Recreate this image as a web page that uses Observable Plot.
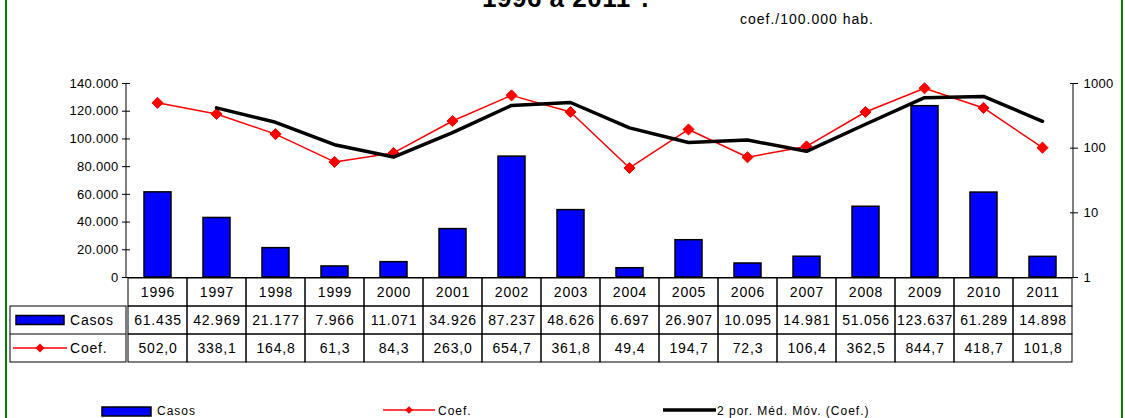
<!DOCTYPE html>
<html>
<head>
<meta charset="utf-8">
<script src="https://cdn.jsdelivr.net/npm/d3@7"></script>
<script src="https://cdn.jsdelivr.net/npm/@observablehq/plot@0.6"></script>
<style>
  body { margin: 0; background: #fff; }
  #chart { position: relative; width: 1125px; height: 418px; overflow: hidden; background: #fff;
           font-family: "Liberation Sans", Arial, sans-serif; color: #000; }
  #chart svg { position: absolute; left: 0; }
  .border { position: absolute; left: 5px; top: -10px; width: 1114px; height: 440px; border: 2px solid #008000; }
  .title { position: absolute; left: 482px; top: -15px; font-size: 26px; font-weight: bold; line-height: 26px;
           letter-spacing: 0.5px; white-space: nowrap; }
  .unit { position: absolute; left: 740px; top: 12px; font-size: 14px; line-height: 14px; letter-spacing: 1px; white-space: nowrap; }
</style>
</head>
<body>
<div id="chart">
  <div class="border"></div>
  <div class="title" id="title"></div>
  <div class="unit" id="unit"></div>
</div>
<script>
// ---------- data ----------
const years = ["1996","1997","1998","1999","2000","2001","2002","2003","2004","2005","2006","2007","2008","2009","2010","2011"];
const casos = [61435, 42969, 21177, 7966, 11071, 34926, 87237, 48626, 6697, 26907, 10095, 14981, 51056, 123637, 61289, 14898];
const coef  = [502.0, 338.1, 164.8, 61.3, 84.3, 263.0, 654.7, 361.8, 49.4, 194.7, 72.3, 106.4, 362.5, 844.7, 418.7, 101.8];
const leftTicks  = [0, 20000, 40000, 60000, 80000, 100000, 120000, 140000];
const rightTicks = [1, 10, 100, 1000];
const seriesLabels = ["Casos", "Coef.", "2 por. Méd. Móv. (Coef.)"];
const titleText = "1996 a 2011*.";
const unitText = "coef./100.000 hab.";

document.getElementById("title").textContent = titleText;
document.getElementById("unit").textContent = unitText;

const loc = d3.formatLocale({decimal: ",", thousands: ".", grouping: [3], currency: ["", ""]});
const fmtInt = loc.format(",d");
const fmtDec = loc.format(".1f");

const data = years.map((y, i) => ({year: y, casos: casos[i], coef: coef[i]}));

const W = 1125, H = 280, mT = 83, mB = 3, mL = 126, mR = 52;
const FONT = '"Liberation Sans", Arial, sans-serif';
const BLUE = "#0000FF", RED = "#FF0000";
const chart = document.getElementById("chart");

// ---------- bars (left linear axis) ----------
const barPlot = Plot.plot({
  width: W, height: H, marginTop: mT, marginBottom: mB, marginLeft: mL, marginRight: mR,
  style: {fontFamily: FONT, fontSize: "13px", color: "#000", background: "transparent", overflow: "visible", letterSpacing: "0.3px"},
  x: {type: "band", domain: years, padding: 0, axis: null},
  y: {type: "linear", domain: [0, 140000]},
  marks: [
    Plot.barY(data, {x: "year", y: "casos", fill: BLUE, stroke: "#000", strokeWidth: 1.5, insetLeft: 16, insetRight: 16}),
    Plot.axisY({anchor: "left", ticks: leftTicks, tickFormat: fmtInt, tickSize: 8, dx: 4, tickPadding: 4, label: null, fontSize: 13, stroke: "#000", fill: "#000"}),
    Plot.ruleY([0], {stroke: "#000", strokeWidth: 1})
  ]
});
barPlot.style.top = "0px";
{
  const s = d3.select(barPlot);
  s.append("line").attr("x1", mL).attr("x2", mL).attr("y1", mT).attr("y2", H - mB).attr("stroke", "#000");
  s.append("line").attr("x1", W - mR).attr("x2", W - mR).attr("y1", mT).attr("y2", H - mB).attr("stroke", "#000");
}
chart.appendChild(barPlot);

// ---------- lines (right log axis) ----------
const linePlot = Plot.plot({
  width: W, height: H, marginTop: mT, marginBottom: mB, marginLeft: mL, marginRight: mR,
  style: {fontFamily: FONT, fontSize: "13px", color: "#000", background: "transparent", overflow: "visible", letterSpacing: "0.3px"},
  x: {type: "point", domain: years, padding: 0.5, axis: null},
  y: {type: "log", domain: [1, 1000]},
  marks: [
    Plot.axisY({anchor: "right", ticks: rightTicks, tickFormat: d => String(d), tickSize: 8, dx: -4, tickPadding: 6, label: null, fontSize: 13, stroke: "#000", fill: "#000"}),
    Plot.line(data, {x: "year", y: "coef", stroke: RED, strokeWidth: 1.5}),
    Plot.dot(data, {x: "year", y: "coef", symbol: "diamond2", r: 5, fill: RED, stroke: RED, strokeWidth: 1}),
    Plot.line(data, Plot.windowY({k: 2, anchor: "end", reduce: "mean", strict: true},
      {x: "year", y: "coef", stroke: "#000", strokeWidth: 3.5}))
  ]
});
linePlot.style.top = "0px";
chart.appendChild(linePlot);

// ---------- data table ----------
const rowKeys = ["year", "Casos", "Coef."];
const tableData = [];
years.forEach((y, i) => {
  tableData.push({year: y, row: "year", text: y});
  tableData.push({year: y, row: "Casos", text: fmtInt(casos[i])});
  tableData.push({year: y, row: "Coef.", text: fmtDec(coef[i])});
});
const TH = 87;
const tablePlot = Plot.plot({
  width: W, height: TH, marginTop: 1, marginBottom: 1, marginLeft: mL, marginRight: mR,
  style: {fontFamily: FONT, fontSize: "14px", color: "#000", background: "transparent", overflow: "visible", letterSpacing: "0.8px"},
  x: {type: "band", domain: years, padding: 0, axis: null},
  y: {type: "band", domain: rowKeys, padding: 0, axis: null},
  marks: [
    Plot.cell(tableData, {x: "year", y: "row", fill: "none", stroke: "#000", strokeWidth: 1, inset: 0}),
    Plot.text(tableData, {x: "year", y: "row", text: "text", fontSize: 14, fill: "#000"})
  ]
});
tablePlot.style.top = "276px";
{
  const ys = tablePlot.scale("y");
  const bw = ys.bandwidth;
  const yC = ys.apply("Casos"), yK = ys.apply("Coef.");
  const s = d3.select(tablePlot);
  s.append("rect").attr("x", 10).attr("y", yC).attr("width", mL - 10).attr("height", 2 * bw)
    .attr("fill", "none").attr("stroke", "#000");
  s.append("line").attr("x1", 10).attr("x2", mL).attr("y1", yK).attr("y2", yK).attr("stroke", "#000");
  // Casos swatch
  s.append("rect").attr("x", 16).attr("y", yC + bw / 2 - 4.5).attr("width", 48).attr("height", 9)
    .attr("fill", BLUE).attr("stroke", "#000").attr("stroke-width", 1.5);
  s.append("text").attr("x", 70).attr("y", yC + bw / 2).attr("dy", "0.35em").attr("font-size", 14)
    .attr("text-anchor", "start").text(seriesLabels[0]);
  // Coef swatch
  const cy = yK + bw / 2;
  s.append("line").attr("x1", 13).attr("x2", 67).attr("y1", cy).attr("y2", cy).attr("stroke", RED).attr("stroke-width", 1.5);
  s.append("path").attr("transform", `translate(40,${cy})`).attr("d", d3.symbol(d3.symbolDiamond2, Math.PI * 16)())
    .attr("fill", RED);
  s.append("text").attr("x", 70).attr("y", cy).attr("dy", "0.35em").attr("font-size", 14)
    .attr("text-anchor", "start").text(seriesLabels[1]);
}
chart.appendChild(tablePlot);

// ---------- legend ----------
const leg = d3.create("svg").attr("width", W).attr("height", 23)
  .style("top", "395px").style("font-family", FONT).style("font-size", "12px").style("letter-spacing", "1px");
leg.append("rect").attr("x", 102).attr("y", 12).attr("width", 49).attr("height", 9)
  .attr("fill", BLUE).attr("stroke", "#000").attr("stroke-width", 1.5);
leg.append("text").attr("x", 157).attr("y", 16).attr("dy", "0.35em").attr("text-anchor", "start").text(seriesLabels[0]);
leg.append("line").attr("x1", 383).attr("x2", 435).attr("y1", 15).attr("y2", 15).attr("stroke", RED).attr("stroke-width", 1.5);
leg.append("path").attr("transform", "translate(409,15)").attr("d", d3.symbol(d3.symbolDiamond2, Math.PI * 12)()).attr("fill", RED);
leg.append("text").attr("x", 438).attr("y", 16).attr("dy", "0.35em").attr("text-anchor", "start").text(seriesLabels[1]);
leg.append("line").attr("x1", 663).attr("x2", 716).attr("y1", 15).attr("y2", 15).attr("stroke", "#000").attr("stroke-width", 3.5);
leg.append("text").attr("x", 717).attr("y", 16).attr("dy", "0.35em").attr("text-anchor", "start").text(seriesLabels[2]);
chart.appendChild(leg.node());
</script>
</body>
</html>
